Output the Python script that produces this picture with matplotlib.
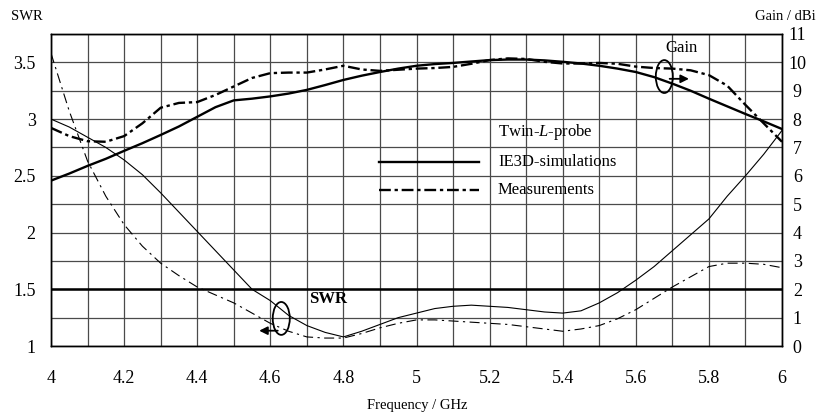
import numpy as np
import matplotlib
matplotlib.use("Agg")
import matplotlib.pyplot as plt
from matplotlib.patches import Ellipse
from matplotlib.ticker import MultipleLocator

plt.rcParams['font.family'] = ['Liberation Serif', 'DejaVu Serif']
plt.rcParams['mathtext.fontset'] = 'custom'
plt.rcParams['mathtext.it'] = 'Liberation Serif:italic'
plt.rcParams['mathtext.rm'] = 'Liberation Serif'

# frequency points (GHz)
freq = [4.0, 4.05, 4.1, 4.15, 4.2, 4.25, 4.3, 4.35, 4.4, 4.45, 4.5,
        4.55, 4.6, 4.65, 4.7, 4.75, 4.8, 4.85, 4.9, 4.95, 5.0,
        5.05, 5.1, 5.15, 5.2, 5.25, 5.3, 5.35, 5.4, 5.45, 5.5,
        5.55, 5.6, 5.65, 5.7, 5.75, 5.8, 5.85, 5.9, 5.95, 6.0]

gain_sim = [5.83, 6.08, 6.35, 6.6, 6.88, 7.15, 7.44, 7.74, 8.08, 8.42, 8.66,
            8.72, 8.8, 8.9, 9.03, 9.2, 9.38, 9.53, 9.66, 9.78, 9.88,
            9.94, 9.98, 10.03, 10.08, 10.1, 10.1, 10.07, 10.02, 9.96, 9.88,
            9.78, 9.66, 9.48, 9.25, 9.0, 8.72, 8.45, 8.18, 7.92, 7.65]

gain_meas = [7.69, 7.4, 7.22, 7.2, 7.4, 7.85, 8.4, 8.57, 8.6, 8.85, 9.15,
             9.45, 9.62, 9.64, 9.64, 9.75, 9.88, 9.75, 9.7, 9.74, 9.78,
             9.8, 9.84, 9.95, 10.08, 10.14, 10.12, 10.02, 9.96, 9.96, 9.98,
             9.95, 9.85, 9.8, 9.78, 9.72, 9.55, 9.18, 8.5, 7.85, 7.2]

swr_sim = [3.0, 2.93, 2.84, 2.75, 2.64, 2.51, 2.35, 2.18, 2.01, 1.84, 1.67,
           1.5, 1.4, 1.27, 1.18, 1.12, 1.08, 1.13, 1.19, 1.25, 1.29,
           1.33, 1.35, 1.36, 1.35, 1.34, 1.32, 1.3, 1.29, 1.31, 1.38,
           1.47, 1.58, 1.7, 1.84, 1.98, 2.12, 2.32, 2.5, 2.69, 2.9]

swr_meas = [3.58, 3.07, 2.63, 2.32, 2.07, 1.88, 1.73, 1.62, 1.52, 1.45, 1.38,
            1.29, 1.2, 1.13, 1.08, 1.07, 1.07, 1.11, 1.16, 1.2, 1.23,
            1.23, 1.22, 1.21, 1.2, 1.19, 1.17, 1.15, 1.13, 1.15, 1.18,
            1.24, 1.32, 1.42, 1.52, 1.61, 1.7, 1.73, 1.73, 1.72, 1.69]

x_ticks = [4, 4.2, 4.4, 4.6, 4.8, 5, 5.2, 5.4, 5.6, 5.8, 6]
swr_ticks = [1, 1.5, 2, 2.5, 3, 3.5]
gain_ticks = list(range(0, 12))

fig = plt.figure(figsize=(8.16, 4.15), dpi=100)
ax = fig.add_axes([51 / 816, 1 - 346 / 415, 731 / 816, 312 / 415])
ax2 = ax.twinx()

ax.set_xlim(4, 6)
ax.set_ylim(1, 3.75)
ax2.set_ylim(0, 11)

# grid
ax.xaxis.set_minor_locator(MultipleLocator(0.1))
ax.yaxis.set_minor_locator(MultipleLocator(0.25))
ax.grid(True, which='both', color='#4a4a4a', lw=0.9)
ax.set_axisbelow(True)
ax.axhline(1.5, color='black', lw=1.8)

ax.set_xticks(x_ticks)
ax.set_xticklabels([f'{t:g}' for t in x_ticks])
ax.set_yticks(swr_ticks)
ax.set_yticklabels([f'{t:g}' for t in swr_ticks])
ax2.set_yticks(gain_ticks)
ax.tick_params(axis='x', which='both', length=0, labelsize=13, pad=17)
ax.tick_params(axis='y', which='both', length=0, labelsize=13, pad=11)
ax2.tick_params(axis='y', length=0, labelsize=13, pad=11)
for lab in ax2.get_yticklabels():
    lab.set_horizontalalignment('center')

for sp in list(ax.spines.values()) + list(ax2.spines.values()):
    sp.set_color('black')
    sp.set_linewidth(1.0)

# SWR curves
ax.plot(freq, swr_sim, color='black', lw=0.8)
ax.plot(freq, swr_meas, color='black', lw=0.8, dashes=(9, 4, 2, 4))

# gain curves
ax2.plot(freq, gain_sim, color='black', lw=1.7)
ax2.plot(freq, gain_meas, color='black', lw=1.7, dashes=(5, 1.6, 1.4, 1.6))

# legend drawn by hand
ax.plot([0.449, 0.5855], [0.59, 0.59], transform=ax.transAxes, color='black', lw=1.7)
ax.plot([0.449, 0.5855], [0.5, 0.5], transform=ax.transAxes, color='black', lw=1.7,
        dashes=(5, 1.6, 1.4, 1.6))
ax.text(0.6115, 0.686, r'Twin-$\mathit{L}$-probe', transform=ax.transAxes, fontsize=12, va='center')
ax.text(0.6115, 0.59, 'IE3D-simulations', transform=ax.transAxes, fontsize=12, va='center')
ax.text(0.6115, 0.5, 'Measurements', transform=ax.transAxes, fontsize=12, va='center')

# annotations
ax2.add_patch(Ellipse((5.678, 9.5), 0.0466, 1.16, fill=False, lw=1.3, color='black'))
ax2.annotate('', xy=(5.753, 9.42), xytext=(5.685, 9.42),
             arrowprops=dict(arrowstyle='-|>', lw=1.3, color='black', mutation_scale=12))
ax2.text(5.726, 10.5, 'Gain', fontsize=12, ha='center', va='center')

ax.add_patch(Ellipse((4.63, 1.243), 0.0466, 0.29, fill=False, lw=1.3, color='black'))
ax.annotate('', xy=(4.562, 1.135), xytext=(4.628, 1.135),
            arrowprops=dict(arrowstyle='-|>', lw=1.3, color='black', mutation_scale=12))
ax.text(4.759, 1.414, 'SWR', fontsize=12, fontweight='bold', ha='center', va='center')

fig.text(27 / 816, 1 - 17 / 415, 'SWR', fontsize=10.5, ha='center', va='center')
fig.text(755 / 816, 1 - 17 / 415, 'Gain / dBi', fontsize=10.5, ha='left', va='center')
fig.text(417 / 816, 1 - 405 / 415, 'Frequency / GHz', fontsize=10.5, ha='center', va='center')

fig.savefig('out.png', dpi=100)
